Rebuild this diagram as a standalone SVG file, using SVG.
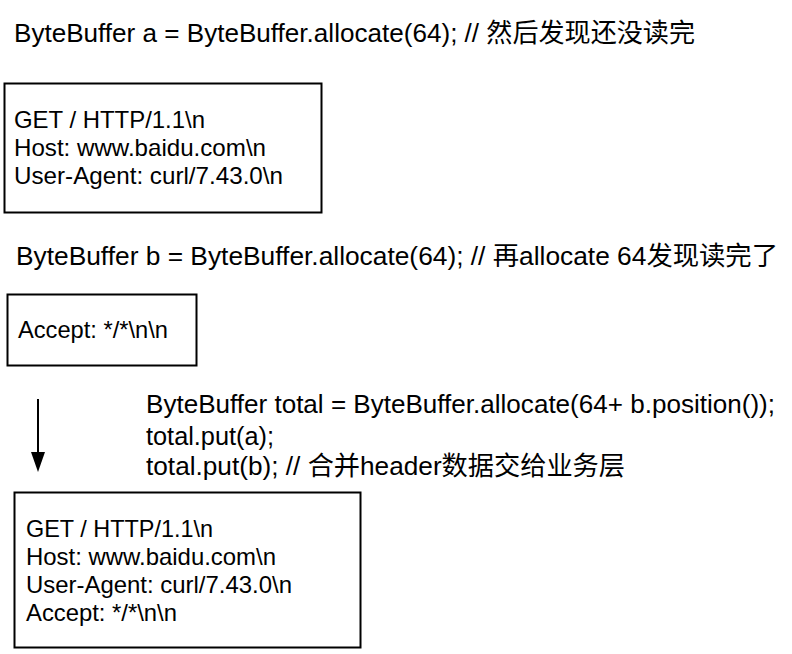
<svg xmlns="http://www.w3.org/2000/svg" width="792" height="654" viewBox="0 0 792 654">
<style>
text{font-family:"Liberation Sans","Noto Sans CJK SC",sans-serif;fill:#000}
.t{font-size:26px}
.b{font-size:24px}
.box{fill:#fff;stroke:#000;stroke-width:2}
</style>
<rect width="792" height="654" fill="#fff"/>
<g id="title-a"><text class="t" x="14" y="42" textLength="681" lengthAdjust="spacingAndGlyphs">ByteBuffer a = ByteBuffer.allocate(64); // 然后发现还没读完</text></g>
<g id="buffer-a">
<rect class="box" x="4.5" y="83.5" width="317" height="129"/>
<text class="b" x="14" y="128" textLength="191" lengthAdjust="spacingAndGlyphs">GET / HTTP/1.1\n</text>
<text class="b" x="14" y="156" textLength="252" lengthAdjust="spacingAndGlyphs">Host: www.baidu.com\n</text>
<text class="b" x="14" y="184" textLength="269" lengthAdjust="spacingAndGlyphs">User-Agent: curl/7.43.0\n</text>
</g>
<g id="title-b"><text class="t" x="16" y="265" textLength="762" lengthAdjust="spacingAndGlyphs">ByteBuffer b = ByteBuffer.allocate(64); // 再allocate 64发现读完了</text></g>
<g id="buffer-b">
<rect class="box" x="7.5" y="294.5" width="189" height="71"/>
<text class="b" x="18" y="338" textLength="150" lengthAdjust="spacingAndGlyphs">Accept: */*\n\n</text>
</g>
<g id="merge-code">
<text class="t" x="146" y="413" textLength="629" lengthAdjust="spacingAndGlyphs">ByteBuffer total = ByteBuffer.allocate(64+ b.position());</text>
<text class="t" x="146" y="445" textLength="128" lengthAdjust="spacingAndGlyphs">total.put(a);</text>
<text class="t" x="146" y="475" textLength="479" lengthAdjust="spacingAndGlyphs">total.put(b); // 合并header数据交给业务层</text>
</g>
<g id="buffer-total">
<rect class="box" x="14.5" y="492.5" width="346" height="155"/>
<text class="b" x="26" y="537" textLength="187" lengthAdjust="spacingAndGlyphs">GET / HTTP/1.1\n</text>
<text class="b" x="26" y="565" textLength="250" lengthAdjust="spacingAndGlyphs">Host: www.baidu.com\n</text>
<text class="b" x="26" y="593" textLength="266" lengthAdjust="spacingAndGlyphs">User-Agent: curl/7.43.0\n</text>
<text class="b" x="26" y="621" textLength="151" lengthAdjust="spacingAndGlyphs">Accept: */*\n\n</text>
</g>
<g id="connectors">
<line x1="38" y1="399" x2="38" y2="455" stroke="#000" stroke-width="2"/>
<polygon points="31,452 45,452 38,472" fill="#000"/>
</g>
</svg>
